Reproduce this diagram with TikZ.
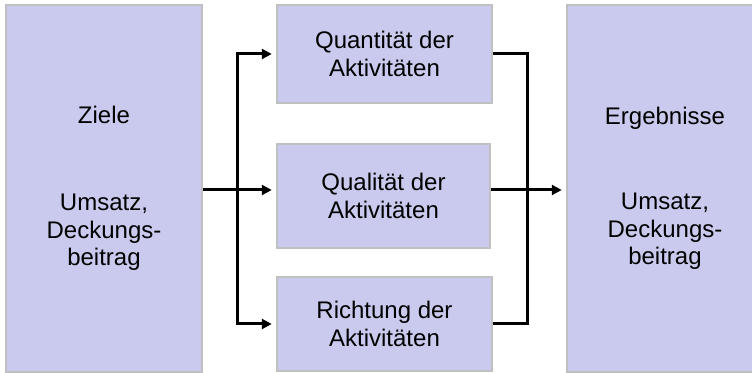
\documentclass[tikz,border=0pt]{standalone}
\usepackage{fontspec}
\setmainfont{Liberation Sans}
\usetikzlibrary{arrows.meta}
\definecolor{boxfill}{HTML}{CACAEE}
\definecolor{boxline}{HTML}{C0C0C0}
\begin{document}
\begin{tikzpicture}[
        x=0.5pt,y=-0.5pt,
        font=\fontsize{12}{13.75}\selectfont,
        box/.style={draw=boxline,line width=1.25pt,fill=boxfill,inner sep=0pt,align=center,minimum width=107.5pt},
        big/.style={box,minimum width=98pt,minimum height=183.5pt},
        link/.style={line width=1.5pt,draw=black},
        arr/.style={link,-{Triangle[length=5pt,width=5pt]},shorten >=2pt}
      ]
      \useasboundingbox (0,0) rectangle (752,373);

      % goals and results
      \node[big] (ziele) at (104,188.5) {Ziele\\[30pt]Umsatz,\\Deckungs-\\beitrag};
      \node[big] (ergeb) at (665,188.5) {Ergebnisse\\[29pt]Umsatz,\\Deckungs-\\beitrag};

      % the three activities
      \node[box,minimum height=49pt] (quant) at (384.5,54) {Quantität der\\Aktivitäten};
      \node[box,minimum width=106.5pt,minimum height=52pt] (qual) at (383.5,196) {Qualität der\\Aktivitäten};
      \node[box,minimum height=47pt] (richt) at (384.5,324) {Richtung der\\Aktivitäten};

      \coordinate (fork) at (237,190);
      \coordinate (join) at (527,190);

      % split to the activities
      \draw[arr] (ziele.east |- fork) -- (qual.west |- fork);
      \draw[arr] (fork) |- (quant.west);
      \draw[arr] (fork) |- (richt.west);

      % merge into the results
      \draw[link] (quant.east) -| (richt.east -| join) -- (richt.east);
      \draw[arr] (qual.east |- join) -- (ergeb.west |- join);
    \end{tikzpicture}
\end{document}
